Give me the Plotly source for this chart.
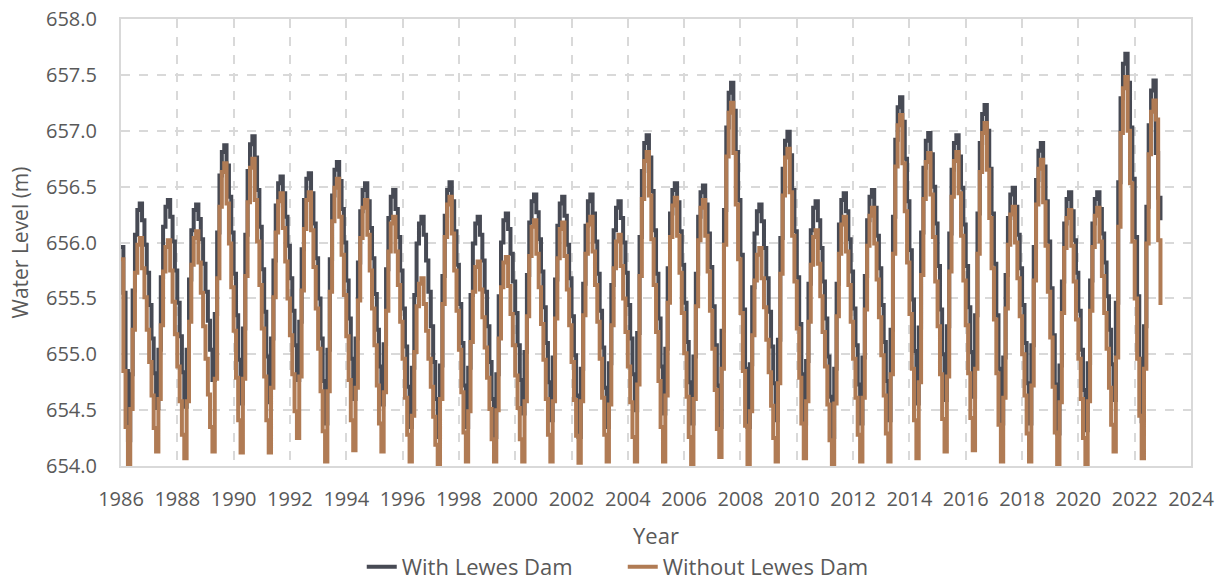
import pandas as pd
import plotly.graph_objects as go

# Monthly water levels (m), one row per year (Jan..Dec), 1986-2022
years = list(range(1986, 2023))

with_dam = [
    [655.96, 655.55, 654.85, 654.23, 654.82, 655.57, 656.07, 656.29, 656.35, 656.20, 655.98, 655.73],
    [655.44, 655.14, 654.83, 654.52, 655.04, 655.69, 656.14, 656.32, 656.38, 656.23, 656.01, 655.75],
    [655.46, 655.16, 654.84, 654.53, 655.04, 655.67, 656.11, 656.29, 656.34, 656.21, 656.03, 655.81],
    [655.56, 655.30, 655.04, 654.77, 655.36, 656.09, 656.60, 656.81, 656.87, 656.69, 656.41, 656.09],
    [655.72, 655.35, 654.95, 654.56, 655.23, 656.07, 656.64, 656.88, 656.95, 656.76, 656.47, 656.14],
    [655.76, 655.38, 654.98, 654.57, 655.14, 655.84, 656.33, 656.53, 656.59, 656.44, 656.23, 655.97],
    [655.68, 655.39, 655.08, 654.77, 655.29, 655.94, 656.38, 656.57, 656.62, 656.44, 656.17, 655.86],
    [655.50, 655.14, 654.76, 654.38, 655.04, 655.85, 656.42, 656.65, 656.72, 656.55, 656.30, 656.00],
    [655.66, 655.32, 654.96, 654.60, 655.14, 655.82, 656.28, 656.47, 656.53, 656.37, 656.13, 655.86],
    [655.54, 655.22, 654.89, 654.55, 655.09, 655.76, 656.22, 656.41, 656.47, 656.30, 656.05, 655.75],
    [655.41, 655.07, 654.71, 654.35, 654.88, 655.53, 655.99, 656.17, 656.23, 656.07, 655.84, 655.56],
    [655.25, 654.93, 654.60, 654.26, 654.90, 655.70, 656.24, 656.47, 656.54, 656.37, 656.10, 655.80],
    [655.45, 655.10, 654.72, 654.35, 654.88, 655.53, 655.99, 656.17, 656.23, 656.07, 655.84, 655.56],
    [655.25, 654.93, 654.60, 654.26, 654.82, 655.52, 656.00, 656.20, 656.26, 656.12, 655.90, 655.65],
    [655.37, 655.08, 654.77, 654.47, 655.02, 655.71, 656.18, 656.37, 656.43, 656.27, 656.03, 655.74],
    [655.42, 655.10, 654.75, 654.41, 654.97, 655.67, 656.15, 656.35, 656.41, 656.24, 655.98, 655.68],
    [655.34, 654.99, 654.63, 654.26, 654.87, 655.63, 656.15, 656.37, 656.43, 656.26, 656.01, 655.72],
    [655.39, 655.06, 654.70, 654.35, 654.92, 655.62, 656.11, 656.31, 656.37, 656.22, 656.00, 655.73],
    [655.44, 655.14, 654.82, 654.50, 655.19, 656.05, 656.64, 656.89, 656.96, 656.76, 656.46, 656.11],
    [655.72, 655.32, 654.89, 654.47, 655.05, 655.77, 656.26, 656.47, 656.53, 656.36, 656.10, 655.80],
    [655.46, 655.11, 654.75, 654.38, 654.98, 655.72, 656.23, 656.45, 656.51, 656.34, 656.08, 655.78],
    [655.43, 655.08, 654.72, 654.35, 655.21, 656.29, 657.03, 657.34, 657.43, 657.18, 656.81, 656.38],
    [655.89, 655.40, 654.87, 654.35, 654.91, 655.60, 656.08, 656.28, 656.34, 656.19, 655.95, 655.68],
    [655.38, 655.07, 654.74, 654.41, 655.13, 656.04, 656.66, 656.91, 656.99, 656.78, 656.47, 656.10],
    [655.69, 655.27, 654.82, 654.38, 654.94, 655.63, 656.11, 656.31, 656.37, 656.20, 655.95, 655.65],
    [655.32, 654.98, 654.62, 654.26, 654.87, 655.63, 656.16, 656.38, 656.44, 656.28, 656.03, 655.74],
    [655.41, 655.08, 654.73, 654.38, 654.97, 655.70, 656.20, 656.41, 656.47, 656.31, 656.06, 655.77],
    [655.44, 655.11, 654.76, 654.41, 655.22, 656.23, 656.92, 657.21, 657.30, 657.08, 656.75, 656.37],
    [655.93, 655.49, 655.03, 654.56, 655.24, 656.09, 656.67, 656.91, 656.98, 656.79, 656.50, 656.17],
    [655.79, 655.40, 655.00, 654.59, 655.25, 656.08, 656.65, 656.89, 656.96, 656.77, 656.49, 656.16],
    [655.79, 655.42, 655.02, 654.62, 655.35, 656.26, 656.89, 657.15, 657.23, 657.00, 656.66, 656.26],
    [655.81, 655.35, 654.87, 654.38, 654.97, 655.71, 656.22, 656.43, 656.49, 656.32, 656.07, 655.77],
    [655.44, 655.10, 654.74, 654.38, 655.08, 655.96, 656.56, 656.82, 656.89, 656.68, 656.37, 656.01],
    [655.59, 655.17, 654.73, 654.29, 654.90, 655.65, 656.17, 656.39, 656.45, 656.28, 656.02, 655.73],
    [655.39, 655.04, 654.68, 654.32, 654.92, 655.66, 656.17, 656.39, 656.45, 656.30, 656.08, 655.82],
    [655.52, 655.22, 654.91, 654.59, 655.46, 656.54, 657.29, 657.60, 657.69, 657.43, 657.03, 656.57],
    [656.05, 655.52, 654.96, 654.40, 655.25, 656.32, 657.05, 657.36, 657.45, 656.80, 656.40, 656.20],
]

without_dam = [
    [655.85, 654.85, 654.35, 654.00, 654.51, 655.22, 655.73, 655.98, 656.04, 655.77, 655.51, 655.22],
    [654.93, 654.63, 654.34, 654.13, 654.60, 655.26, 655.74, 655.96, 656.02, 655.75, 655.47, 655.18],
    [654.89, 654.58, 654.28, 654.07, 654.58, 655.29, 655.80, 656.04, 656.10, 655.82, 655.55, 655.25],
    [654.96, 654.64, 654.35, 654.13, 654.78, 655.68, 656.32, 656.63, 656.71, 656.35, 655.99, 655.60],
    [655.21, 654.79, 654.41, 654.12, 654.78, 655.70, 656.36, 656.67, 656.75, 656.38, 656.01, 655.62],
    [655.23, 654.80, 654.41, 654.12, 654.70, 655.51, 656.09, 656.37, 656.44, 656.13, 655.83, 655.50],
    [655.17, 654.82, 654.49, 654.25, 654.80, 655.57, 656.12, 656.38, 656.45, 656.11, 655.78, 655.41],
    [655.05, 654.67, 654.31, 654.04, 654.67, 655.56, 656.19, 656.49, 656.57, 656.23, 655.89, 655.53],
    [655.16, 654.77, 654.41, 654.14, 654.70, 655.48, 656.04, 656.31, 656.38, 656.07, 655.75, 655.41],
    [655.08, 654.72, 654.38, 654.13, 654.66, 655.39, 655.92, 656.17, 656.23, 655.92, 655.62, 655.29],
    [654.96, 654.61, 654.28, 654.04, 654.45, 655.02, 655.43, 655.63, 655.68, 655.45, 655.21, 654.96],
    [654.71, 654.44, 654.19, 654.00, 654.60, 655.45, 656.05, 656.34, 656.41, 656.08, 655.75, 655.39],
    [655.04, 654.66, 654.30, 654.04, 654.49, 655.11, 655.56, 655.78, 655.83, 655.58, 655.33, 655.06],
    [654.79, 654.51, 654.24, 654.04, 654.50, 655.14, 655.60, 655.82, 655.87, 655.61, 655.36, 655.08],
    [654.81, 654.52, 654.24, 654.04, 654.58, 655.34, 655.88, 656.14, 656.20, 655.90, 655.60, 655.27],
    [654.95, 654.60, 654.28, 654.04, 654.58, 655.32, 655.86, 656.12, 656.18, 655.88, 655.58, 655.26],
    [654.93, 654.59, 654.27, 654.03, 654.58, 655.35, 655.90, 656.16, 656.23, 655.92, 655.62, 655.29],
    [654.96, 654.61, 654.28, 654.04, 654.55, 655.26, 655.77, 656.01, 656.07, 655.79, 655.50, 655.20],
    [654.89, 654.57, 654.26, 654.04, 654.73, 655.70, 656.39, 656.73, 656.81, 656.42, 656.03, 655.62],
    [655.20, 654.76, 654.35, 654.04, 654.63, 655.46, 656.05, 656.33, 656.40, 656.06, 655.73, 655.37],
    [655.01, 654.62, 654.26, 654.00, 654.60, 655.43, 656.02, 656.31, 656.38, 656.06, 655.74, 655.39],
    [655.05, 654.68, 654.33, 654.08, 654.87, 655.98, 656.77, 657.16, 657.25, 656.80, 656.34, 655.85],
    [655.37, 654.85, 654.36, 654.00, 654.49, 655.17, 655.66, 655.89, 655.95, 655.68, 655.42, 655.13],
    [654.84, 654.54, 654.25, 654.04, 654.74, 655.72, 656.42, 656.76, 656.84, 656.45, 656.06, 655.65],
    [655.23, 654.79, 654.38, 654.07, 654.58, 655.29, 655.80, 656.05, 656.11, 655.81, 655.52, 655.20],
    [654.89, 654.55, 654.23, 654.00, 654.56, 655.34, 655.90, 656.16, 656.23, 655.92, 655.62, 655.29],
    [654.96, 654.61, 654.28, 654.04, 654.61, 655.40, 655.97, 656.24, 656.31, 655.99, 655.67, 655.33],
    [654.99, 654.63, 654.29, 654.04, 654.82, 655.90, 656.68, 657.05, 657.14, 656.71, 656.28, 655.82],
    [655.36, 654.87, 654.41, 654.07, 654.75, 655.71, 656.39, 656.72, 656.80, 656.43, 656.05, 655.65],
    [655.25, 654.82, 654.42, 654.13, 654.80, 655.74, 656.41, 656.73, 656.81, 656.44, 656.06, 655.66],
    [655.26, 654.83, 654.43, 654.14, 654.87, 655.90, 656.63, 656.98, 657.07, 656.65, 656.22, 655.77],
    [655.31, 654.83, 654.37, 654.04, 654.61, 655.41, 655.98, 656.25, 656.32, 656.00, 655.68, 655.34],
    [655.00, 654.63, 654.29, 654.04, 654.72, 655.66, 656.34, 656.66, 656.74, 656.36, 655.97, 655.56],
    [655.15, 654.71, 654.30, 654.00, 654.57, 655.37, 655.95, 656.22, 656.29, 655.97, 655.65, 655.31],
    [654.96, 654.60, 654.25, 654.00, 654.58, 655.39, 655.96, 656.24, 656.31, 656.01, 655.70, 655.37],
    [655.05, 654.70, 654.37, 654.13, 654.97, 656.14, 656.98, 657.38, 657.48, 657.00, 656.53, 656.01],
    [655.50, 654.96, 654.45, 654.07, 654.87, 655.99, 656.79, 657.17, 657.27, 657.10, 656.02, 655.44],
]

x_ticks = [str(y) for y in range(1986, 2025, 2)]

dates = pd.date_range(f"{years[0]}-01-01", periods=12 * len(years), freq="MS")
with_flat = [v for row in with_dam for v in row]
without_flat = [v for row in without_dam for v in row]

DARK = "#474A54"
BROWN = "#B07B54"
TXT = "#595959"
GRID = "#D9D9D9"
FONT = "Open Sans, Lato, sans-serif"

fig = go.Figure()
fig.add_trace(go.Scatter(x=dates, y=with_flat, mode="lines", name="With Lewes Dam",
                         line=dict(color=DARK, width=4, shape="hv")))
fig.add_trace(go.Scatter(x=dates, y=without_flat, mode="lines", name="Without Lewes Dam",
                         line=dict(color=BROWN, width=4, shape="hv")))

fig.update_layout(
    width=1224, height=580,
    margin=dict(l=121, r=33, t=19, b=114, autoexpand=False),
    paper_bgcolor="white", plot_bgcolor="white",
    font=dict(family=FONT, color=TXT, size=20),
    showlegend=True,
    legend=dict(orientation="h", x=0.225, xanchor="left", y=-0.226, yanchor="middle",
                font=dict(size=22, color=TXT), entrywidth=216, entrywidthmode="pixels",
                tracegroupgap=0, bgcolor="rgba(0,0,0,0)"),
)
fig.update_xaxes(
    type="date",
    range=["1986-01-01", "2024-01-01"],
    tickmode="array",
    tickvals=[f"{t}-01-01" for t in x_ticks],
    ticktext=x_ticks,
    showgrid=True, gridcolor=GRID, gridwidth=1.5, griddash="dash",
    showline=True, linecolor=GRID, linewidth=2, mirror=True,
    zeroline=False, ticks="", automargin=False,
    tickfont=dict(size=20, color=TXT),
    ticklabelstandoff=14,
    title=dict(text="Year", font=dict(size=22, color=TXT), standoff=18),
)
fig.update_yaxes(
    range=[654, 658],
    dtick=0.5, tick0=654, tickformat=".1f",
    showgrid=True, gridcolor=GRID, gridwidth=1.5, griddash="dash",
    showline=True, linecolor=GRID, linewidth=2, mirror=True,
    zeroline=False, ticks="", automargin=False,
    tickfont=dict(size=20, color=TXT),
    ticklabelstandoff=18,
    title=dict(text="Water Level (m)", font=dict(size=21, color=TXT), standoff=12),
)

fig.write_html("out.html")
